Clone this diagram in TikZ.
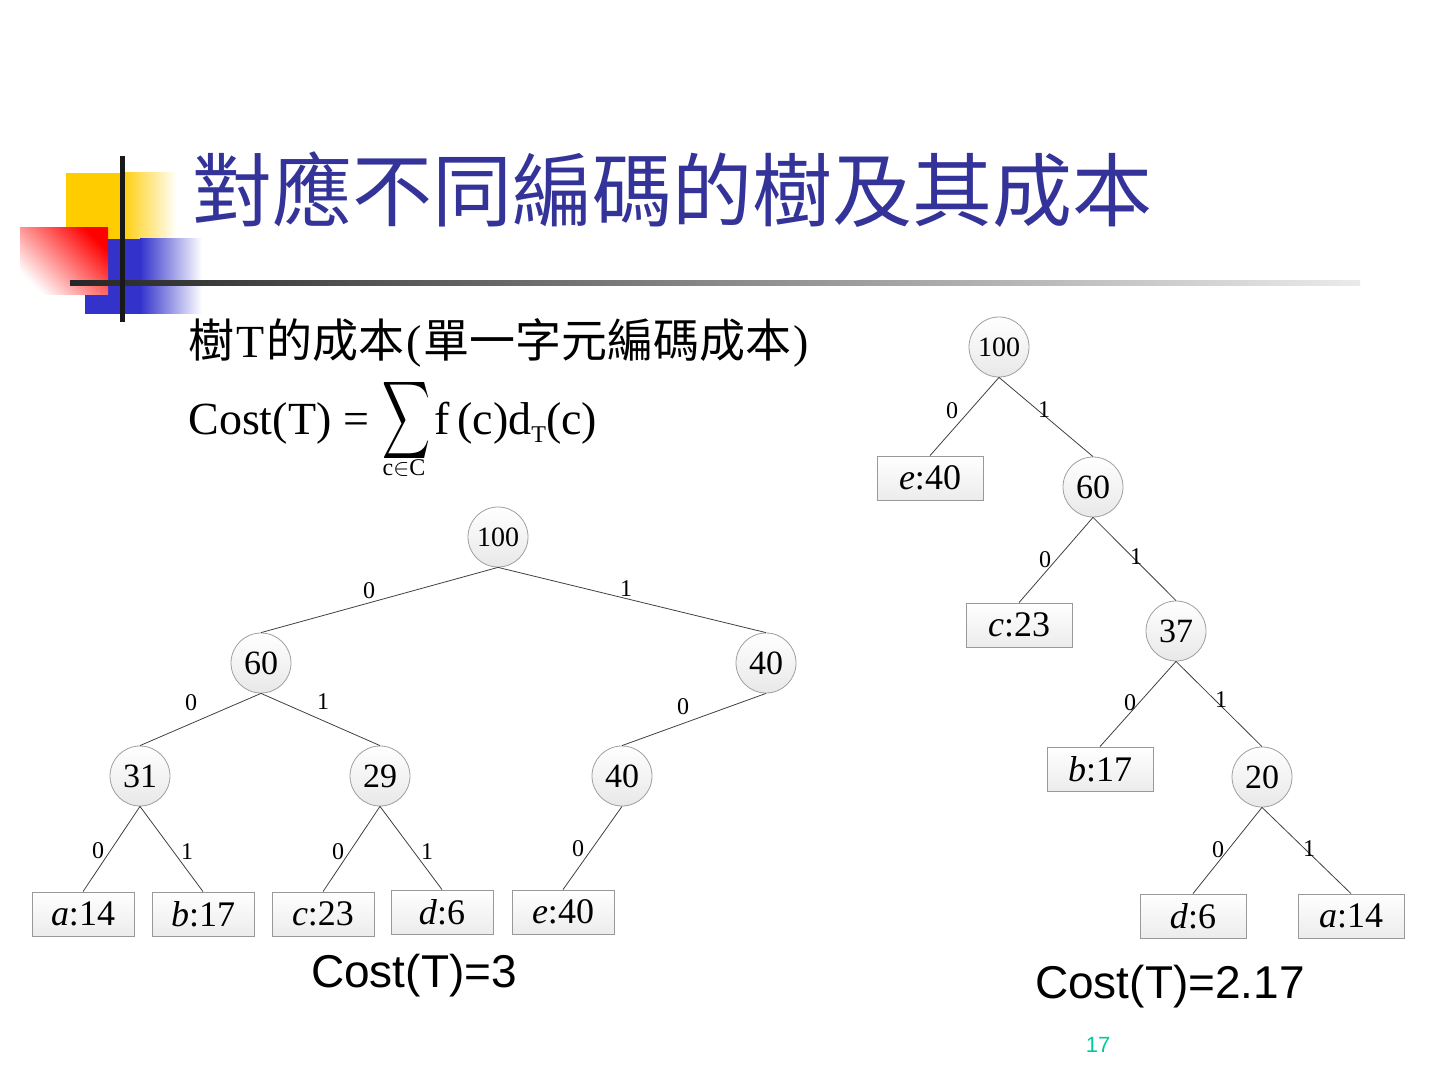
\documentclass[tikz,border=0pt]{standalone}
\usepackage{fontspec}
\usepackage{graphicx}
\setmainfont{Liberation Serif}
\newfontfamily\cjk{Noto Sans CJK TC}
\newfontfamily\arial{Liberation Sans}
\usetikzlibrary{shapes,positioning,calc}
\definecolor{titleblue}{RGB}{51,51,153}
\definecolor{deco yellow}{RGB}{255,204,0}
\definecolor{deco blue}{RGB}{51,51,204}
\definecolor{deco red}{RGB}{255,0,0}
\definecolor{pagegreen}{RGB}{0,204,153}

\begin{document}
\begin{tikzpicture}[x=0.5pt,y=-0.5pt,
    sumnode/.style={circle, draw=gray!75, top color=white, bottom color=gray!18,
        minimum size=30pt, inner sep=0pt, font=\fontsize{17}{17}\selectfont},
    rootnode/.style={sumnode, font=\fontsize{14}{14}\selectfont},
    leafbox/.style={rectangle, draw=gray!80, top color=white, bottom color=gray!15,
        minimum width=51pt, minimum height=22pt, inner sep=0pt, font=\fontsize{18}{18}\selectfont},
    bit/.style={font=\fontsize{12}{12}\selectfont, inner sep=0pt},
    edge/.style={draw=black!75, line width=0.4pt},
    formulatext/.style={anchor=base west, inner sep=0pt, font=\fontsize{23}{28}\selectfont}]
    \useasboundingbox (0,0) rectangle (1440,1080);

    % title decoration
    \fill[deco yellow] (66,173) rectangle (120,239);
    \shade[left color=deco yellow, right color=white] (120,173) rectangle (177,239);
    \fill[deco blue] (85,239) rectangle (140,314);
    \shade[left color=deco blue, right color=white] (140,239) rectangle (202,314);
    \shade[top color=deco red, bottom color=white, shading angle=-45] (20,228) rectangle (108,295);
    \shade[left color=black!85, right color=black!8] (70,281) rectangle (1360,286);
    \fill[black!90] (120,156) rectangle (125,322);

    % title and formula
    \node[text=titleblue, font=\cjk\fontsize{40}{40}\selectfont] (title) at (672,190) {對應不同編碼的樹及其成本};
    \node[formulatext] (costdef) at (188,358)
        {{\cjk 樹}\kern1pt T\kern1pt{\cjk 的成本}\kern1pt(\kern1pt{\cjk 單一字元編碼成本}\kern1pt)};
    \node[formulatext] (costlhs) at (188,435) {Cost(T) =};
    \node[inner sep=0pt] (sigma) at (406,421) {\resizebox{24pt}{28.5pt}{$\displaystyle\sum$}};
    \node[inner sep=0pt, font=\fontsize{12}{12}\selectfont] (sigmarange) at (404,468) {c$\in$C};
    \node[formulatext] (costrhs) at (434,435)
        {f\,(c)d\raisebox{-4pt}{\fontsize{12}{12}\selectfont T}(c)};

    % left tree
    \node[rootnode] (L100) at (498,537) {100};
    \node[sumnode] (L60) at (261,663) {60};
    \node[sumnode] (L40) at (766,663) {40};
    \node[sumnode] (L31) at (140,776) {31};
    \node[sumnode] (L29) at (380,776) {29};
    \node[sumnode] (L40b) at (622,776) {40};
    \node[leafbox] (La) at (83,914) {\textit{a}:14};
    \node[leafbox] (Lb) at (203,914) {\textit{b}:17};
    \node[leafbox] (Lc) at (323,914) {\textit{c}:23};
    \node[leafbox] (Ld) at (442,912) {\textit{d}:6};
    \node[leafbox] (Le) at (563,912) {\textit{e}:40};

    % right tree
    \node[rootnode] (R100) at (999,347) {100};
    \node[sumnode] (R60) at (1093,487) {60};
    \node[sumnode] (R37) at (1176,631) {37};
    \node[sumnode] (R20) at (1262,777) {20};
    \node[leafbox, minimum width=53pt] (Re) at (930,478) {\textit{e}:40};
    \node[leafbox, minimum width=53pt] (Rc) at (1019,625) {\textit{c}:23};
    \node[leafbox, minimum width=53pt] (Rb) at (1100,769) {\textit{b}:17};
    \node[leafbox, minimum width=53pt] (Rd) at (1193,916) {\textit{d}:6};
    \node[leafbox, minimum width=53pt] (Ra) at (1351,916) {\textit{a}:14};

    \foreach \p/\c in {L100/L60, L100/L40, L60/L31, L60/L29, L40/L40b,
        L31/La, L31/Lb, L29/Lc, L29/Ld, L40b/Le,
        R100/Re, R100/R60, R60/Rc, R60/R37, R37/Rb, R37/R20, R20/Rd, R20/Ra}
        \draw[edge] (\p.south) -- (\c.north);

    % edge bits
    \foreach \t/\x/\y in {0/369/591, 1/626/589, 0/191/703, 1/323/702, 0/683/707,
        0/98/851, 1/187/852, 0/338/852, 1/427/852, 0/578/849,
        0/952/411, 1/1044/410, 0/1045/560, 1/1136/557, 0/1130/703, 1/1221/700,
        0/1218/850, 1/1309/849}
        \node[bit] at (\x,\y) {\t};

    % costs
    \node[font=\arial\fontsize{23}{23}\selectfont] (costA) at (414,976) {Cost(T)=3};
    \node[font=\arial\fontsize{23}{23}\selectfont] (costB) at (1170,987) {Cost(T)=2.17};
    \node[text=pagegreen, font=\arial\fontsize{11}{11}\selectfont] (pageno) at (1098,1045) {17};
\end{tikzpicture}
\end{document}
